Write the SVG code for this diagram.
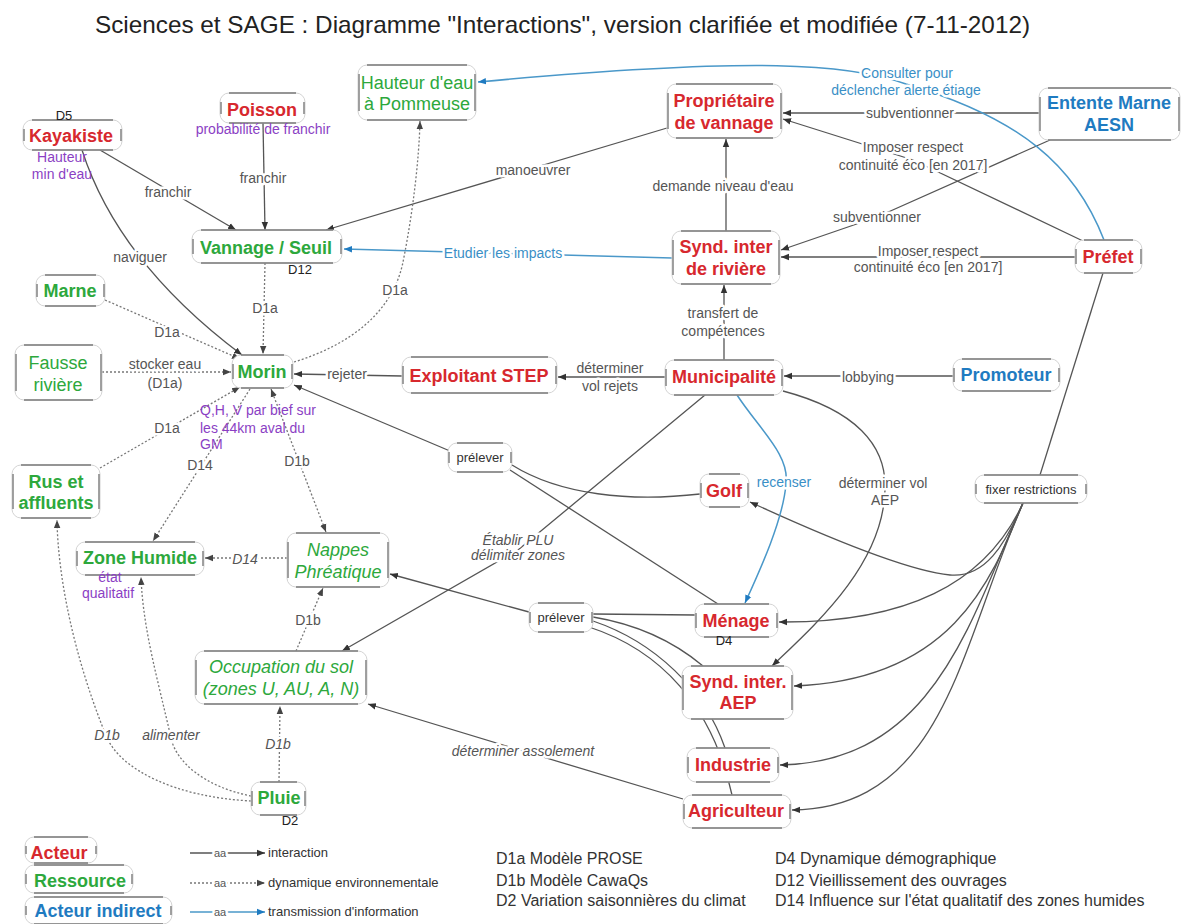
<svg xmlns="http://www.w3.org/2000/svg" width="1182" height="924" viewBox="0 0 1182 924">
<defs>
<style>
text{font-family:"Liberation Sans",Arial,sans-serif}
.nb{fill:#fff;stroke:#d4d4d4;stroke-width:1}
.nl{fill:none;stroke:#7a7a7a;stroke-width:1.6}
.ns{fill:none;stroke:#8a8a8a;stroke-width:1.6}
.e{fill:none;stroke:#555;stroke-width:1.3;marker-end:url(#a)}
.e0{fill:none;stroke:#555;stroke-width:1.3}
.d{fill:none;stroke:#777;stroke-width:1.3;stroke-dasharray:2 2;marker-end:url(#ad)}
.b{fill:none;stroke:#4a98c9;stroke-width:1.5;marker-end:url(#ab)}
.c{text-anchor:middle}
.nr{font-size:18px;font-weight:bold;fill:#d7282e}
.ng{font-size:18px;font-weight:bold;fill:#2da83c}
.ngn{font-size:18px;fill:#2da83c}
.ngi{font-size:18px;font-style:italic;fill:#2da83c}
.nbl{font-size:18px;font-weight:bold;fill:#1f7bc1}
.h{paint-order:stroke;stroke:#fff;stroke-width:5px;stroke-linejoin:round}
.l{font-size:14px;fill:#555}
.li{font-size:14px;font-style:italic;fill:#555}
.p{font-size:14px;fill:#8b3fc4}
.bl{font-size:14px;fill:#3a8fc6}
.k{font-size:13px;fill:#222}
.lk{font-size:13px;fill:#333}
.lg{font-size:16px;fill:#333}
.aa{font-size:11px;fill:#555}
</style>
<marker id="a" viewBox="0 0 10 10" refX="10" refY="5" markerWidth="8" markerHeight="8" orient="auto" markerUnits="userSpaceOnUse"><path d="M0 1L10 5L0 9z" fill="#333"/></marker>
<marker id="ad" viewBox="0 0 10 10" refX="10" refY="5" markerWidth="8" markerHeight="8" orient="auto-start-reverse" markerUnits="userSpaceOnUse"><path d="M0 1L10 5L0 9z" fill="#444"/></marker>
<marker id="ab" viewBox="0 0 10 10" refX="10" refY="5" markerWidth="8" markerHeight="8" orient="auto" markerUnits="userSpaceOnUse"><path d="M0 1L10 5L0 9z" fill="#1f7bc1"/></marker>
</defs>
<rect width="1182" height="924" fill="#fff"/>
<text x="95" y="33" font-size="24" fill="#222" textLength="935" lengthAdjust="spacingAndGlyphs">Sciences et SAGE : Diagramme "Interactions", version clarifiée et modifiée (7-11-2012)</text>

<g id="connectors">
<path class="e" d="M100 150L236 230"/>
<path class="e" d="M263 123L265 230"/>
<path class="e" d="M82 150Q118 262 242 355"/>
<path class="e" d="M667 128L326 230"/>
<path class="e" d="M726 231L726 139"/>
<path class="e" d="M1039 113L783 113"/>
<path class="e" d="M1083 241L913 160L783 119"/>
<path class="e" d="M1050 140L877 217L781 250"/>
<path class="e" d="M1075 257L781 257"/>
<path class="e" d="M724 360L724 285"/>
<path class="e" d="M665 377L558 377"/>
<path class="e" d="M402 376L294 374"/>
<path class="e" d="M953 376L784 376"/>
<path class="e0" d="M700 494C630 502 560 495 512 465"/>
<path class="e0" d="M718 604L510 470"/>
<path class="e" d="M450 451L294 385"/>
<path class="e0" d="M695 615L593 614"/>
<path class="e0" d="M703 666C672 640 635 624 593 617"/>
<path class="e0" d="M725 748C705 690 655 642 593 621"/>
<path class="e0" d="M732 795C712 705 660 650 589 627"/>
<path class="e" d="M529 612L390 574"/>
<path class="e" d="M705 395L518 550L342 651"/>
<path class="e" d="M683 799L523 751L368 704"/>
<path class="e" d="M783 391C855 410 887 445 885 490C883 565 815 625 772 666"/>
<path class="e0" d="M1103 273L1040 475"/>
<path class="e" d="M1023 503C1005 545 985 578 950 575C900 570 800 525 750 502"/>
<path class="e" d="M1023 503C985 585 905 623 779 622"/>
<path class="e" d="M1023 503C990 585 950 680 794 686"/>
<path class="e" d="M1023 503C970 620 935 762 780 765"/>
<path class="e" d="M1023 503C960 645 945 808 792 810"/>
<path class="b" d="M1104 240C1075 165 1020 118 906 84C850 64 760 56 478 82"/>
<path class="b" d="M672 258L344 249"/>
<path class="b" d="M737 395C760 430 790 455 786 484C783 520 760 570 745 603"/>
<path class="d" d="M265 263L263 354"/>
<path class="d" d="M294 362C350 345 393 312 403 262C413 212 419 160 420 121"/>
<path class="d" d="M105 300L240 359"/>
<path class="d" d="M102 372L231 372"/>
<path class="d" d="M100 468L240 387"/>
<path class="d" d="M250 389L153 541"/>
<path class="d" d="M271 389L326 532" marker-start="url(#ad)"/>
<path class="d" d="M287 558L205 558"/>
<path class="d" d="M296 651L323 588"/>
<path class="d" d="M279 782L280 706"/>
<path class="d" d="M251 796C205 787 176 762 171 738C158 680 143 630 141 577"/>
<path class="d" d="M251 801C175 797 122 770 107 738C75 660 58 580 57 520"/>
</g>

<g id="edge-labels">
<text class="l c h" x="168" y="197">franchir</text>
<text class="l c h" x="263" y="183">franchir</text>
<text class="l c h" x="140" y="262">naviguer</text>
<text class="l c h" x="533" y="175">manoeuvrer</text>
<text class="l c h" x="723" y="191">demande niveau d'eau</text>
<text class="l c h" x="910" y="118">subventionner</text>
<text class="l c h" x="913" y="152" fill="#333">Imposer respect</text>
<text class="l c h" x="913" y="170" fill="#333">continuité éco [en 2017]</text>
<text class="l c h" x="877" y="222">subventionner</text>
<text class="l c h" x="928" y="256">Imposer respect</text>
<text class="l c h" x="928" y="272">continuité éco [en 2017]</text>
<text class="bl c h" x="503" y="258">Etudier les impacts</text>
<text class="bl c h" x="907" y="78">Consulter pour</text>
<text class="bl c h" x="906" y="95">déclencher alerte étiage</text>
<text class="l c h" x="265" y="313">D1a</text>
<text class="l c h" x="395" y="295">D1a</text>
<text class="l c h" x="167" y="337">D1a</text>
<text class="l c h" x="165" y="369">stocker eau</text>
<text class="l c h" x="165" y="388">(D1a)</text>
<text class="l c h" x="347" y="379">rejeter</text>
<text class="l c h" x="167" y="433">D1a</text>
<text class="l c h" x="200" y="470">D14</text>
<text class="l c h" x="297" y="466">D1b</text>
<text class="li c h" x="245" y="564">D14</text>
<text class="l c h" x="308" y="625">D1b</text>
<text class="li c h" x="278" y="749">D1b</text>
<text class="li c h" x="107" y="740">D1b</text>
<text class="li c h" x="171" y="740">alimenter</text>
<text class="l c h" x="610" y="373">déterminer</text>
<text class="l c h" x="610" y="391">vol rejets</text>
<text class="l c h" x="723" y="318">transfert de</text>
<text class="l c h" x="723" y="336">compétences</text>
<text class="l c h" x="868" y="382">lobbying</text>
<text class="bl c h" x="784" y="487">recenser</text>
<text class="l c h" x="883" y="488">déterminer vol</text>
<text class="l c h" x="885" y="505">AEP</text>
<text class="li c h" x="518" y="545">Établir PLU</text>
<text class="li c h" x="518" y="560">délimiter zones</text>
<text class="li c h" x="523" y="756">déterminer assolement</text>
</g>

<g id="hauteur"><rect class="nb" x="358" y="65" width="118" height="55" rx="9"/><path class="nl" d="M367 65H467M367 120H467"/><path class="ns" d="M359 74V111M475 74V111"/><text class="ngn c" x="417" y="89">Hauteur d'eau</text><text class="ngn c" x="417" y="110">à Pommeuse</text></g>
<g id="poisson"><rect class="nb" x="220" y="93" width="85" height="30" rx="9"/><path class="nl" d="M229 93H296M229 123H296"/><path class="ns" d="M221 102V114M304 102V114"/><text class="nr c" x="262" y="116">Poisson</text><text class="p c" x="263" y="134">probabilité de franchir</text></g>
<g id="kayakiste"><rect class="nb" x="23" y="120" width="99" height="30" rx="9"/><path class="nl" d="M32 120H113M32 150H113"/><path class="ns" d="M24 129V141M121 129V141"/><text class="nr c" x="71" y="142">Kayakiste</text><text class="k c" x="64" y="120">D5</text><text class="p c" x="62" y="162">Hauteur</text><text class="p c" x="62" y="179">min d'eau</text></g>
<g id="vannage"><rect class="nb" x="192" y="230" width="150" height="33" rx="9"/><path class="nl" d="M201 230H333M201 263H333"/><path class="ns" d="M193 239V254M341 239V254"/><text class="ng c" x="266" y="254">Vannage / Seuil</text><text class="k c" x="300" y="274">D12</text></g>
<g id="marne"><rect class="nb" x="36" y="275" width="69" height="31" rx="9"/><path class="nl" d="M45 275H96M45 306H96"/><path class="ns" d="M37 284V297M104 284V297"/><text class="ng c" x="70" y="297">Marne</text></g>
<g id="fausse-riviere"><rect class="nb" x="15" y="345" width="87" height="55" rx="9"/><path class="nl" d="M24 345H93M24 400H93"/><path class="ns" d="M16 354V391M101 354V391"/><text class="ngn c" x="58" y="369">Fausse</text><text class="ngn c" x="58" y="391">rivière</text></g>
<g id="morin"><rect class="nb" x="232" y="355" width="61" height="33" rx="9"/><path class="nl" d="M241 355H284M241 388H284"/><path class="ns" d="M233 364V379M292 364V379"/><text class="ng c" x="262" y="378">Morin</text><text class="p" x="200" y="415">Q,H, V par bief sur</text><text class="p" x="200" y="433">les 44km aval du</text><text class="p" x="200" y="449">GM</text></g>
<g id="rus"><rect class="nb" x="12" y="465" width="88" height="53" rx="9"/><path class="nl" d="M21 465H91M21 518H91"/><path class="ns" d="M13 474V509M99 474V509"/><text class="ng c" x="56" y="488">Rus et</text><text class="ng c" x="56" y="509">affluents</text></g>
<g id="zone-humide"><rect class="nb" x="76" y="542" width="128" height="33" rx="9"/><path class="nl" d="M85 542H195M85 575H195"/><path class="ns" d="M77 551V566M203 551V566"/><text class="ng c" x="140" y="564">Zone Humide</text><text class="p c" x="110" y="582">état</text><text class="p c" x="108" y="598">qualitatif</text></g>
<g id="nappes"><rect class="nb" x="287" y="533" width="102" height="54" rx="9"/><path class="nl" d="M296 533H380M296 587H380"/><path class="ns" d="M288 542V578M388 542V578"/><text class="ngi c" x="338" y="556">Nappes</text><text class="ngi c" x="338" y="578">Phréatique</text></g>
<g id="occupation"><rect class="nb" x="195" y="651" width="172" height="53" rx="9"/><path class="nl" d="M204 651H358M204 704H358"/><path class="ns" d="M196 660V695M366 660V695"/><text class="ngi c" x="281" y="673">Occupation du sol</text><text class="ngi c" x="281" y="695">(zones U, AU, A, N)</text></g>
<g id="pluie"><rect class="nb" x="251" y="782" width="55" height="33" rx="9"/><path class="nl" d="M260 782H297M260 815H297"/><path class="ns" d="M252 791V806M305 791V806"/><text class="ng c" x="279" y="804">Pluie</text><text class="k c" x="290" y="825">D2</text></g>
<g id="proprietaire"><rect class="nb" x="667" y="84" width="115" height="54" rx="9"/><path class="nl" d="M676 84H773M676 138H773"/><path class="ns" d="M668 93V129M781 93V129"/><text class="nr c" x="724" y="107">Propriétaire</text><text class="nr c" x="724" y="129">de vannage</text></g>
<g id="entente"><rect class="nb" x="1039" y="88" width="141" height="52" rx="9"/><path class="nl" d="M1048 88H1171M1048 140H1171"/><path class="ns" d="M1040 97V131M1179 97V131"/><text class="nbl c" x="1109" y="109">Entente Marne</text><text class="nbl c" x="1109" y="131">AESN</text></g>
<g id="synd-riviere"><rect class="nb" x="672" y="231" width="108" height="53" rx="9"/><path class="nl" d="M681 231H771M681 284H771"/><path class="ns" d="M673 240V275M779 240V275"/><text class="nr c" x="726" y="253">Synd. inter</text><text class="nr c" x="726" y="275">de rivière</text></g>
<g id="prefet"><rect class="nb" x="1075" y="240" width="67" height="33" rx="9"/><path class="nl" d="M1084 240H1133M1084 273H1133"/><path class="ns" d="M1076 249V264M1141 249V264"/><text class="nr c" x="1108" y="263">Préfet</text></g>
<g id="step"><rect class="nb" x="402" y="357" width="155" height="36" rx="9"/><path class="nl" d="M411 357H548M411 393H548"/><path class="ns" d="M403 366V384M556 366V384"/><text class="nr c" x="479" y="382">Exploitant STEP</text></g>
<g id="municipalite"><rect class="nb" x="665" y="360" width="118" height="35" rx="9"/><path class="nl" d="M674 360H774M674 395H774"/><path class="ns" d="M666 369V386M782 369V386"/><text class="nr c" x="724" y="383">Municipalité</text></g>
<g id="promoteur"><rect class="nb" x="953" y="359" width="107" height="32" rx="9"/><path class="nl" d="M962 359H1051M962 391H1051"/><path class="ns" d="M954 368V382M1059 368V382"/><text class="nbl c" x="1006" y="381">Promoteur</text></g>
<g id="golf"><rect class="nb" x="700" y="474" width="49" height="33" rx="9"/><path class="nl" d="M709 474H740M709 507H740"/><path class="ns" d="M701 483V498M748 483V498"/><text class="nr c" x="724" y="497">Golf</text></g>
<g id="menage"><rect class="nb" x="695" y="604" width="83" height="33" rx="9"/><path class="nl" d="M704 604H769M704 637H769"/><path class="ns" d="M696 613V628M777 613V628"/><text class="nr c" x="736" y="627">Ménage</text><text class="k c" x="724" y="645">D4</text></g>
<g id="synd-aep"><rect class="nb" x="682" y="666" width="111" height="53" rx="9"/><path class="nl" d="M691 666H784M691 719H784"/><path class="ns" d="M683 675V710M792 675V710"/><text class="nr c" x="738" y="688">Synd. inter.</text><text class="nr c" x="738" y="709">AEP</text></g>
<g id="industrie"><rect class="nb" x="687" y="748" width="92" height="34" rx="9"/><path class="nl" d="M696 748H770M696 782H770"/><path class="ns" d="M688 757V773M778 757V773"/><text class="nr c" x="733" y="771">Industrie</text></g>
<g id="agriculteur"><rect class="nb" x="683" y="795" width="108" height="33" rx="9"/><path class="nl" d="M692 795H782M692 828H782"/><path class="ns" d="M684 804V819M790 804V819"/><text class="nr c" x="736" y="817">Agriculteur</text></g>
<g id="prelever-1"><rect class="nb" x="448" y="443" width="64" height="29" rx="9"/><path class="nl" d="M457 443H503M457 472H503"/><path class="ns" d="M449 452V463M511 452V463"/><text class="lk c" x="480" y="462">prélever</text></g>
<g id="prelever-2"><rect class="nb" x="529" y="603" width="64" height="29" rx="9"/><path class="nl" d="M538 603H584M538 632H584"/><path class="ns" d="M530 612V623M592 612V623"/><text class="lk c" x="561" y="622">prélever</text></g>
<g id="fixer-restrictions"><rect class="nb" x="975" y="475" width="112" height="28" rx="9"/><path class="nl" d="M984 475H1078M984 503H1078"/><path class="ns" d="M976 484V494M1086 484V494"/><text class="lk c" x="1031" y="494">fixer restrictions</text></g>

<g id="legend">
<g id="leg-acteur"><rect class="nb" x="25" y="837" width="72" height="26" rx="9"/><path class="nl" d="M34 837H88M34 863H88"/><path class="ns" d="M26 846V854M96 846V854"/><text class="nr c" x="59" y="859">Acteur</text></g>
<g id="leg-ressource"><rect class="nb" x="25" y="865" width="108" height="28" rx="9"/><path class="nl" d="M34 865H124M34 893H124"/><path class="ns" d="M26 874V884M132 874V884"/><text class="ng c" x="80" y="887">Ressource</text></g>
<g id="leg-indirect"><rect class="nb" x="25" y="897" width="147" height="27" rx="9"/><path class="nl" d="M34 897H163M34 924H163"/><path class="ns" d="M26 906V915M171 906V915"/><text class="nbl c" x="98" y="917">Acteur indirect</text></g>
<path class="e" d="M190 853L265 853"/>
<path class="d" d="M190 883L265 883"/>
<path class="b" d="M190 912L265 912"/>
<text class="aa c h" x="220" y="857">aa</text>
<text class="aa c h" x="220" y="887">aa</text>
<text class="aa c h" x="220" y="916" fill="#3a8fc6">aa</text>
<text class="lk" x="268" y="857">interaction</text>
<text class="lk" x="268" y="887">dynamique environnementale</text>
<text class="lk" x="268" y="916">transmission d'information</text>
<text class="lg" x="496" y="864">D1a Modèle PROSE</text>
<text class="lg" x="496" y="886">D1b Modèle CawaQs</text>
<text class="lg" x="496" y="906">D2 Variation saisonnières du climat</text>
<text class="lg" x="775" y="864">D4 Dynamique démographique</text>
<text class="lg" x="775" y="886">D12 Vieillissement des ouvrages</text>
<text class="lg" x="775" y="906">D14 Influence sur l'état qualitatif des zones humides</text>
</g>
</svg>
